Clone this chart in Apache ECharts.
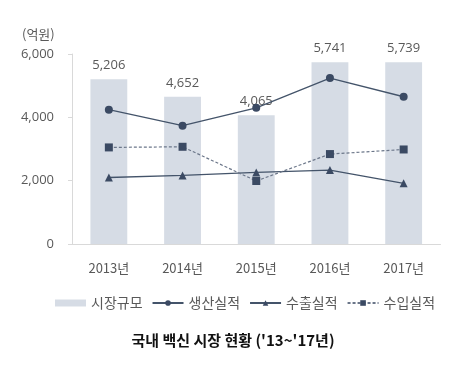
<!DOCTYPE html>
<html><head><meta charset="utf-8">
<script src="https://cdn.jsdelivr.net/npm/echarts@6/dist/echarts.min.js"></script>
<style>html,body{margin:0;padding:0;background:#fff}#c{width:466px;height:371px}</style>
</head><body><div id="c"></div>
<script>
const categories = ['2013년','2014년','2015년','2016년','2017년'];
const marketSize = [5206, 4652, 4065, 5741, 5739];
const production = [4240, 3735, 4300, 5240, 4650];
const exports_ = [2100, 2165, 2260, 2335, 1915];
const imports_ = [3050, 3070, 1990, 2840, 2985];
const seriesNames = ['시장규모','생산실적','수출실적','수입실적'];
const yTicks = [0, 2000, 4000, 6000];

const FONT = '"Noto Sans CJK KR", "Noto Sans", sans-serif';
const GRAY = '#595959';
const LINE = '#44546a';
const chart = echarts.init(document.getElementById('c'), null, {renderer:'canvas'});
chart.setOption({
  animation:false,
  textStyle:{fontFamily:FONT},
  title:{text:"국내 백신 시장 현황 ('13~'17년)", left:'center', top:328,
    textStyle:{fontFamily:FONT,fontSize:15,fontWeight:'bold',color:'#111'}},
  graphic:[{type:'text',left:22,top:28,style:{text:'(억원)',fontFamily:FONT,fontSize:13,fill:GRAY}}],
  legend:{left:50, top:291, itemGap:9, itemWidth:31, itemHeight:7,
    textStyle:{fontFamily:FONT,fontSize:14,color:GRAY},
    data:[{name:seriesNames[0], itemStyle:{color:'#d6dce5'}, icon:'rect'},
      seriesNames[1],seriesNames[2],seriesNames[3]]},
  grid:{left:72,right:25.5,top:54,bottom:127},
  xAxis:{type:'category',data:categories,
    axisLine:{lineStyle:{color:'#d9d9d9'}},axisTick:{show:false},
    axisLabel:{color:GRAY,fontSize:13,margin:18,fontFamily:FONT}},
  yAxis:{type:'value',min:yTicks[0],max:yTicks[yTicks.length-1],interval:2000,
    splitLine:{show:false},
    axisLine:{show:true,lineStyle:{color:'#d9d9d9'}},
    axisTick:{show:true,length:4,lineStyle:{color:'#d9d9d9'}},
    axisLabel:{color:GRAY,fontSize:13,margin:18,fontFamily:'"Open Sans", sans-serif',
      formatter:v=>v.toLocaleString('en-US')}},
  series:[
    {name:seriesNames[0],type:'bar',data:marketSize,barWidth:'50%',
     itemStyle:{color:'#d6dce5'},
     label:{show:true,position:'top',distance:7,color:GRAY,fontSize:13,fontFamily:'"Open Sans", sans-serif',
       formatter:p=>p.value.toLocaleString('en-US')}},
    {name:seriesNames[1],type:'line',data:production,symbol:'circle',symbolSize:8,
     lineStyle:{color:LINE,width:1.3},itemStyle:{color:'#3b4a63'}},
    {name:seriesNames[2],type:'line',data:exports_,symbol:'triangle',symbolSize:8,
     lineStyle:{color:LINE,width:1.3},itemStyle:{color:'#3b4a63'}},
    {name:seriesNames[3],type:'line',data:imports_,symbol:'rect',symbolSize:8,
     lineStyle:{color:'#6b7689',width:1.2,type:[3,2]},itemStyle:{color:'#3b4a63'}}
  ]
});
</script></body></html>
